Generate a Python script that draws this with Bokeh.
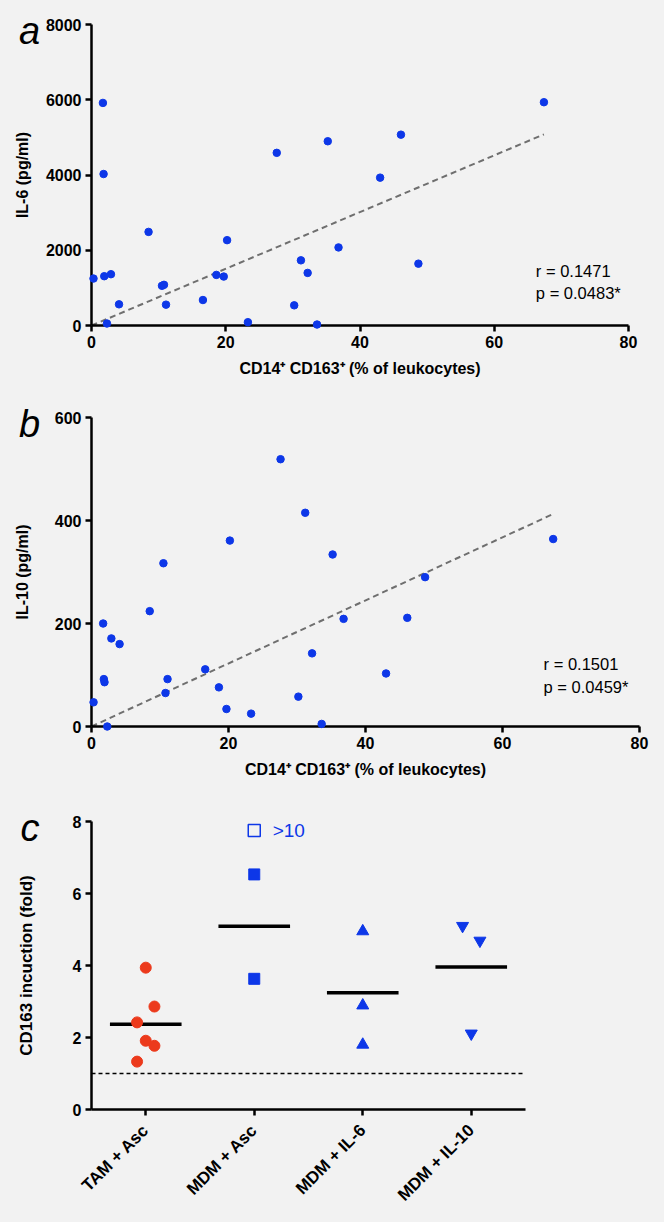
from bokeh.plotting import figure
from bokeh.layouts import column
from bokeh.models import Range1d, FixedTicker, Label, Span, ColumnDataSource, FactorRange
from bokeh.transform import dodge
from bokeh.embed import file_html
from bokeh.resources import INLINE
from bokeh.core.properties import value

# ---------------- data ----------------
cd14_cd163_pct = [0.3, 1.7, 1.8, 1.9, 2.3, 2.9, 4.1, 8.5, 10.5, 10.8, 11.1, 16.6, 18.6, 19.7,
                  20.2, 23.3, 27.6, 30.2, 31.2, 32.2, 33.6, 35.2, 36.8, 43.0, 46.1, 48.7, 67.4]
il6_pg_ml = [1248, 5916, 4026, 1310, 53, 1363, 563, 2488, 1055, 1081, 554, 677, 1345, 1301,
             2268, 88, 4589, 536, 1732, 1398, 26, 4897, 2075, 3930, 5072, 1644, 5934]
il10_pg_ml = [47, 200, 92, 86, 0, 171, 160, 224, 317, 65, 92, 111, 76, 34,
              361, 25, 519, 58, 415, 142, 5, 334, 209, 103, 211, 290, 364]

fit_a_x = [0.0, 67.4]
fit_a_y = [0.0, 5080.0]
fit_b_x = [0.0, 67.3]
fit_b_y = [0.0, 412.0]
stats_a = ["r = 0.1471", "p = 0.0483*"]
stats_b = ["r = 0.1501", "p = 0.0459*"]

groups = ["TAM + Asc", "MDM + Asc", "MDM + IL-6", "MDM + IL-10"]
tam_asc = [3.94, 2.86, 2.42, 1.91, 1.77, 1.33]
tam_asc_jitter = [0.0, 0.08, -0.08, 0.0, 0.08, -0.08]
mdm_asc = [6.53, 3.63]
mdm_asc_offscale = [7.75]          # drawn as open square, value > 10
mdm_il6 = [4.95, 2.89, 1.80]
mdm_il10 = [5.10, 4.69, 2.11]
mdm_il10_jitter = [-0.08, 0.08, 0.0]
group_means = [2.37, 5.09, 3.24, 3.96]
baseline_fold = 1.0

# ---------------- style ----------------
BG = "#f2f2f2"
BLUE = "#0d37e8"
RED = "#ec3a1c"
FONT = "Liberation Sans"
W = 664


def style(p, ylabel_standoff):
    p.background_fill_color = BG
    p.border_fill_color = BG
    p.outline_line_color = None
    p.grid.grid_line_color = None
    for ax in p.axis:
        ax.axis_line_width = 2.5
        ax.axis_line_color = "black"
        ax.major_tick_line_width = 2.5
        ax.major_tick_line_color = "black"
        ax.major_tick_out = 6
        ax.major_tick_in = 0
        ax.minor_tick_line_color = None
        ax.major_label_text_font = FONT
        ax.major_label_text_font_style = "bold"
        ax.major_label_text_font_size = "16px"
        ax.major_label_text_color = "black"
        ax.major_label_standoff = 4
        ax.axis_label_text_font = FONT
        ax.axis_label_text_font_style = "bold"
        ax.axis_label_text_font_size = "16px"
        ax.axis_label_text_color = "black"
    p.yaxis.axis_label_standoff = ylabel_standoff
    p.xaxis.axis_label_standoff = 9


def letter(p, txt, x, y):
    p.text(x=[x], y=[y], text=[txt], text_font=value(FONT), text_font_style="italic",
           text_font_size="38px", text_align="left", text_baseline="alphabetic",
           text_color="black", level="overlay")


def stats(p, lines, x, ys):
    p.text(x=[x] * len(lines), y=ys, text=lines, text_font=value(FONT),
           text_font_size="16.5px", text_align="left", text_baseline="middle",
           text_color="black", level="overlay")


XLAB = "CD14\u207a CD163\u207a (% of leukocytes)"
common = dict(output_backend="svg", toolbar_location=None, frame_align=False)

# ---------------- panel a ----------------
pa = figure(width=W, height=386, x_range=Range1d(0, 80), y_range=Range1d(0, 8000),
            min_border_left=91, min_border_right=36, min_border_top=24, min_border_bottom=61,
            **common)
pa.line(fit_a_x, fit_a_y, line_color="#6f6f6f", line_width=2, line_dash="6 4")
pa.scatter(cd14_cd163_pct, il6_pg_ml, size=7.5, color=BLUE, level="overlay")
pa.xaxis.ticker = FixedTicker(ticks=[0, 20, 40, 60, 80])
pa.yaxis.ticker = FixedTicker(ticks=[0, 2000, 4000, 6000, 8000])
pa.xaxis.axis_label = XLAB
pa.yaxis.axis_label = "IL-6 (pg/ml)"
style(pa, 12)
letter(pa, "a", -10.8, 7840)
stats(pa, stats_a, 66.2, [1448, 864])

# ---------------- panel b ----------------
pb = figure(width=W, height=409, x_range=Range1d(0, 80), y_range=Range1d(0, 600),
            min_border_left=91, min_border_right=25, min_border_top=31, min_border_bottom=69,
            **common)
pb.line(fit_b_x, fit_b_y, line_color="#6f6f6f", line_width=2, line_dash="6 4")
pb.scatter(cd14_cd163_pct, il10_pg_ml, size=7.5, color=BLUE, level="overlay")
pb.xaxis.ticker = FixedTicker(ticks=[0, 20, 40, 60, 80])
pb.yaxis.ticker = FixedTicker(ticks=[0, 200, 400, 600])
pb.xaxis.axis_label = XLAB
pb.yaxis.axis_label = "IL-10 (pg/ml)"
style(pb, 21)
letter(pb, "b", -10.6, 588)
stats(pb, stats_b, 66.0, [122, 77.6])

# ---------------- panel c ----------------
pc = figure(width=W, height=427, x_range=FactorRange(factors=groups, range_padding=0),
            y_range=Range1d(0, 8),
            min_border_left=91, min_border_right=139, min_border_top=26, min_border_bottom=113,
            **common)

pc.add_layout(Span(location=baseline_fold, dimension="width", line_color="black",
                   line_width=1.5, line_dash="4 3"))

src_means = ColumnDataSource(dict(g=groups, m=group_means))
pc.segment(x0=dodge("g", -0.33, range=pc.x_range), y0="m",
           x1=dodge("g", 0.33, range=pc.x_range), y1="m",
           source=src_means, line_color="black", line_width=3.5)

pc.scatter(x=[(groups[0], j) for j in tam_asc_jitter], y=tam_asc, marker="circle", size=11,
           color=RED)
pc.scatter(x=[groups[1]] * len(mdm_asc), y=mdm_asc, marker="square", size=11, color=BLUE)
pc.scatter(x=[groups[1]] * len(mdm_asc_offscale), y=mdm_asc_offscale, marker="square", size=12,
           fill_color=None, line_color=BLUE, line_width=1.5)
pc.add_layout(Label(x=1.67, y=mdm_asc_offscale[0], text=">10", text_font=FONT,
                    text_font_size="19px", text_color=BLUE, text_align="left",
                    text_baseline="middle"))
pc.scatter(x=[groups[2]] * len(mdm_il6), y=mdm_il6, marker="triangle", size=12, color=BLUE)
pc.scatter(x=[(groups[3], j) for j in mdm_il10_jitter], y=mdm_il10, marker="inverted_triangle",
           size=12, color=BLUE)

pc.yaxis.ticker = FixedTicker(ticks=[0, 2, 4, 6, 8])
pc.yaxis.axis_label = "CD163 incuction (fold)"
style(pc, 34)
pc.yaxis.axis_label_text_font_size = "17px"
pc.xaxis.major_label_orientation = 0.785398
pc.xaxis.major_label_text_font_size = "17px"
pc.xaxis.major_label_standoff = 12
letter(pc, "c", -0.654, 7.81)

layout = column(pa, pb, pc, spacing=0)
layout.background = BG

html = file_html(layout, INLINE)
html = html.replace(
    "</head>",
    "<style>html, body {margin: 0 !important; padding: 0 !important; "
    "background-color: #f2f2f2 !important;}</style></head>", 1)
open("out.html", "w").write(html)
